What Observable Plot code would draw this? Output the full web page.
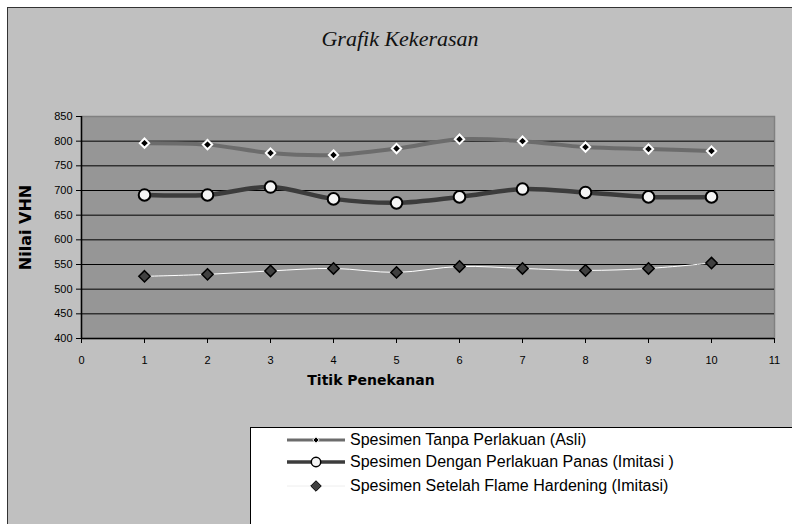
<!DOCTYPE html>
<html><head><meta charset="utf-8">
<script src="https://cdn.jsdelivr.net/npm/d3@7"></script>
<script src="https://cdn.jsdelivr.net/npm/@observablehq/plot@0.6"></script>
<style>
html,body{margin:0;padding:0;width:792px;height:524px;overflow:hidden;background:#fff;}
#wrap{position:relative;width:792px;height:524px;}
#frame{position:absolute;left:7px;top:7px;width:820px;height:560px;background:#c0c0c0;border:1.5px solid #333;box-sizing:border-box;}
#chart{position:absolute;left:0;top:0;}
#title{position:absolute;left:0;width:800px;top:26px;text-align:center;font-family:"Liberation Serif","DejaVu Serif",serif;font-style:italic;font-size:22px;color:#111;}
#legend{position:absolute;left:250px;top:427px;width:600px;height:120px;background:#fff;border:1px solid #000;}
.li{position:absolute;left:36px;height:22px;display:flex;align-items:center;font-family:"Liberation Sans",Arial,sans-serif;font-size:16px;color:#000;}
.li svg{margin-right:3px;}
</style></head>
<body><div id="wrap"><div id="frame"></div><div id="chart"></div><div id="title">Grafik Kekerasan</div><div id="legend"></div></div>
<script>
const titik = [1,2,3,4,5,6,7,8,9,10];
const asli = [796,793,776,772,785,804,800,788,784,780];
const panas = [691,691,707,683,675,687,703,696,687,687];
const flame = [526,530,537,542,534,546,542,538,542,553];
const seriesNames = ["Spesimen Tanpa Perlakuan (Asli)","Spesimen Dengan Perlakuan Panas (Imitasi )","Spesimen Setelah Flame Hardening (Imitasi)"];
const xTicks = [0,1,2,3,4,5,6,7,8,9,10,11];
const yTicks = [400,450,500,550,600,650,700,750,800,850];
const gridY = [450,500,550,600,650,700,750,800];

const d1 = titik.map((x,i)=>({x, y: asli[i]}));
const d2 = titik.map((x,i)=>({x, y: panas[i]}));
const d3s = titik.map((x,i)=>({x, y: flame[i]}));

const chart = Plot.plot({
  width: 792, height: 524,
  marginLeft: 81, marginRight: 18, marginTop: 116, marginBottom: 186,
  style: {background: "transparent", fontFamily: "'Liberation Sans', Arial, sans-serif", fontSize: "11px", color: "#000"},
  x: {domain: [0, 11], ticks: xTicks},
  y: {domain: [400, 850], ticks: yTicks},
  marks: [
    Plot.frame({fill: "#969696", stroke: "#808080", strokeWidth: 1.5}),
    Plot.ruleY(gridY, {stroke: "#000", strokeWidth: 1}),
    Plot.ruleX([0], {stroke: "#000", strokeWidth: 1.5}),
    Plot.ruleY([400], {stroke: "#000", strokeWidth: 1.5}),
    Plot.axisX({ticks: xTicks, tickSize: 5, tickPadding: 13, tickFormat: d => String(d), stroke: "#000", label: null}),
    Plot.axisY({ticks: yTicks, tickSize: 5, tickPadding: 4, tickFormat: d => String(d), stroke: "#000", label: null}),
    Plot.line(d1, {x: "x", y: "y", curve: "catmull-rom", stroke: "#6c6c6c", strokeWidth: 4}),
    Plot.line(d2, {x: "x", y: "y", curve: "catmull-rom", stroke: "#3c3c3c", strokeWidth: 4.5}),
    Plot.line(d3s, {x: "x", y: "y", curve: "catmull-rom", stroke: "#ffffff", strokeWidth: 1}),
    Plot.dot(d1, {x: "x", y: "y", symbol: "diamond2", r: 4.2, fill: "#000", stroke: "#fff", strokeWidth: 2}),
    Plot.dot(d2, {x: "x", y: "y", symbol: "circle", r: 5.8, fill: "#f4f4f4", stroke: "#000", strokeWidth: 2}),
    Plot.dot(d3s, {x: "x", y: "y", symbol: "diamond2", r: 5.1, fill: "#404040", stroke: "#000", strokeWidth: 1.5}),
    Plot.text(["Nilai VHN"], {frameAnchor: "left", dx: -56, rotate: -90, textAnchor: "middle", fontSize: 16, fontWeight: "bold", fontFamily: "'DejaVu Sans', sans-serif", fill: "#000", letterSpacing: "0.5px"}),
    Plot.text(["Titik Penekanan"], {frameAnchor: "bottom", dy: 46, dx: -57, fontSize: 14, fontWeight: "bold", fontFamily: "'DejaVu Sans', sans-serif", fill: "#000", letterSpacing: "1px"})
  ]
});
document.getElementById("chart").appendChild(chart);

// legend
const leg = document.getElementById("legend");
const legStyles = [
  {stroke: "#6c6c6c", sw: 3, sym: d3.symbolDiamond2, size: 26, fill: "#000", mstroke: "#fff", msw: 1},
  {stroke: "#3c3c3c", sw: 3.5, sym: d3.symbolCircle, size: 70, fill: "#f4f4f4", mstroke: "#000", msw: 1.5},
  {stroke: "#eeeeee", sw: 1, sym: d3.symbolDiamond2, size: 70, fill: "#404040", mstroke: "#000", msw: 1}
];
const tops = [1, 23, 47];
seriesNames.forEach((name, i) => {
  const s = legStyles[i];
  const div = document.createElement("div");
  div.className = "li";
  div.style.top = tops[i] + "px";
  const svg = d3.create("svg").attr("width", 60).attr("height", 20);
  svg.append("line").attr("x1", 0).attr("x2", 58).attr("y1", 10).attr("y2", 10).attr("stroke", s.stroke).attr("stroke-width", s.sw);
  svg.append("path").attr("d", d3.symbol(s.sym, s.size)()).attr("transform", "translate(29,10)")
     .attr("fill", s.fill).attr("stroke", s.mstroke).attr("stroke-width", s.msw);
  div.appendChild(svg.node());
  const sp = document.createElement("span");
  sp.textContent = name;
  div.appendChild(sp);
  leg.appendChild(div);
});
</script>
</body></html>
